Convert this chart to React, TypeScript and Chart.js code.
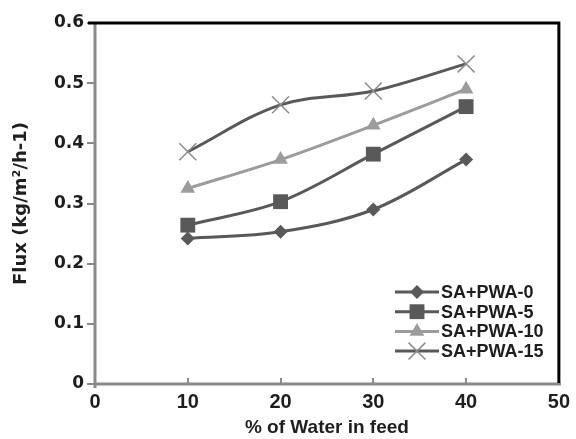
import React, { useEffect, useRef } from "react";
import { Chart, registerables } from "chart.js";

Chart.register(...registerables);

const waterPct = [10, 20, 30, 40];
const pwa0 = [0.242, 0.253, 0.29, 0.373];
const pwa5 = [0.264, 0.303, 0.382, 0.461];
const pwa10 = [0.325, 0.373, 0.43, 0.49];
const pwa15 = [0.386, 0.464, 0.487, 0.532];
const seriesNames = ["SA+PWA-0", "SA+PWA-5", "SA+PWA-10", "SA+PWA-15"];
const xTickValues = [0, 10, 20, 30, 40, 50];
const xTickLabels = ["0", "10", "20", "30", "40", "50"];
const yTickValues = [0, 0.1, 0.2, 0.3, 0.4, 0.5, 0.6];
const yTickLabels = ["0", "0.1", "0.2", "0.3", "0.4", "0.5", "0.6"];

const DARK = "#595959";
const LIGHT = "#9c9c9c";
const MARK_X = "#8c8c8c";
const TEXT = "#1e1e1e";

function drawMarker(ctx: CanvasRenderingContext2D, style: string, x: number, y: number, r: number, fill: string, stroke: string, lw: number) {
  ctx.save();
  ctx.fillStyle = fill;
  ctx.strokeStyle = stroke;
  ctx.lineWidth = lw;
  ctx.beginPath();
  if (style === "rectRot") {
    ctx.moveTo(x - r, y);
    ctx.lineTo(x, y - r);
    ctx.lineTo(x + r, y);
    ctx.lineTo(x, y + r);
    ctx.closePath();
    ctx.fill();
  } else if (style === "rect") {
    const s = r * Math.SQRT1_2;
    ctx.rect(x - s, y - s, 2 * s, 2 * s);
    ctx.fill();
  } else if (style === "triangle") {
    const rad = Math.PI / 2;
    ctx.moveTo(x + Math.cos(rad - Math.PI / 2) * 0 + Math.sin(0) * r, y - r);
    ctx.lineTo(x - Math.sin(Math.PI / 3) * r, y + r * 0.5);
    ctx.lineTo(x + Math.sin(Math.PI / 3) * r, y + r * 0.5);
    ctx.closePath();
    ctx.fill();
  } else if (style === "crossRot") {
    const o = r * Math.SQRT1_2;
    ctx.moveTo(x - o, y - o);
    ctx.lineTo(x + o, y + o);
    ctx.moveTo(x - o, y + o);
    ctx.lineTo(x + o, y - o);
    ctx.stroke();
  }
  ctx.restore();
}

const framePlugin = {
  id: "frame",
  beforeDatasetsDraw(chart: any) {
    const { ctx, chartArea: a, scales } = chart;
    const xs = scales.x;
    const ys = scales.y;
    ctx.save();
    ctx.lineCap = "butt";
    ctx.strokeStyle = "#8a8a8a";
    ctx.lineWidth = 3;
    ctx.beginPath();
    ctx.moveTo(a.left, a.top);
    ctx.lineTo(a.left, a.bottom + 4);
    ctx.moveTo(a.left - 1.5, a.bottom);
    ctx.lineTo(a.right + 2, a.bottom);
    ctx.stroke();
    ctx.lineWidth = 2;
    ctx.beginPath();
    yTickValues.forEach((v) => {
      const py = Math.round(ys.getPixelForValue(v));
      ctx.moveTo(a.left - 8, py);
      ctx.lineTo(a.left, py);
    });
    xTickValues.forEach((v) => {
      const px = Math.round(xs.getPixelForValue(v));
      ctx.moveTo(px, a.bottom);
      ctx.lineTo(px, a.bottom - 6);
    });
    ctx.stroke();
    ctx.strokeStyle = "#000";
    ctx.lineWidth = 3;
    ctx.beginPath();
    ctx.moveTo(a.left - 7, a.top);
    ctx.lineTo(a.right, a.top);
    ctx.lineTo(a.right, a.bottom - 1);
    ctx.stroke();
    ctx.restore();
  },
};

const legendPlugin = {
  id: "insideLegend",
  afterDraw(chart: any) {
    const { ctx } = chart;
    const x0 = 395;
    const x1 = 439;
    const y0 = 292;
    const dy = 19.7;
    ctx.save();
    chart.data.datasets.forEach((ds: any, i: number) => {
      const y = y0 + i * dy;
      ctx.strokeStyle = ds.borderColor;
      ctx.lineWidth = 3;
      ctx.beginPath();
      ctx.moveTo(x0, y);
      ctx.lineTo(x1, y);
      ctx.stroke();
      drawMarker(ctx, ds.pointStyle, (x0 + x1) / 2, y, ds.pointRadius, ds.pointBackgroundColor, ds.pointBorderColor, ds.pointBorderWidth);
      ctx.fillStyle = TEXT;
      ctx.font = "bold 18px 'Liberation Sans'";
      ctx.textAlign = "left";
      ctx.textBaseline = "middle";
      ctx.fillText(seriesNames[i], x1 + 2, y + 1);
    });
    ctx.restore();
  },
};

function toPoints(vals: number[]) {
  return waterPct.map((x, i) => ({ x, y: vals[i] }));
}

export default function App() {
  const ref = useRef<HTMLCanvasElement | null>(null);
  useEffect(() => {
    if (!ref.current) return;
    const common = { borderWidth: 3, tension: 0.35, fill: false };
    const chart = new Chart(ref.current, {
      type: "line",
      data: {
        datasets: [
          {
            ...common,
            label: seriesNames[0],
            data: toPoints(pwa0),
            borderColor: DARK,
            pointStyle: "rectRot",
            pointRadius: 7,
            pointBackgroundColor: DARK,
            pointBorderColor: DARK,
            pointBorderWidth: 0,
          },
          {
            ...common,
            label: seriesNames[1],
            data: toPoints(pwa5),
            borderColor: DARK,
            pointStyle: "rect",
            pointRadius: 10.5,
            pointBackgroundColor: DARK,
            pointBorderColor: DARK,
            pointBorderWidth: 0,
          },
          {
            ...common,
            label: seriesNames[2],
            data: toPoints(pwa10),
            borderColor: LIGHT,
            pointStyle: "triangle",
            pointRadius: 8.5,
            pointBackgroundColor: LIGHT,
            pointBorderColor: LIGHT,
            pointBorderWidth: 0,
          },
          {
            ...common,
            label: seriesNames[3],
            data: toPoints(pwa15),
            borderColor: DARK,
            pointStyle: "crossRot",
            pointRadius: 12,
            pointBackgroundColor: MARK_X,
            pointBorderColor: MARK_X,
            pointBorderWidth: 1.5,
          },
        ] as any,
      },
      options: {
        animation: false,
        responsive: true,
        maintainAspectRatio: false,
        layout: { padding: { top: 23, right: 16, left: 0, bottom: 0 } },
        plugins: { legend: { display: false }, tooltip: { enabled: false } },
        scales: {
          x: {
            type: "linear",
            min: 0,
            max: 50,
            grid: { display: false, drawTicks: false },
            border: { display: false },
            afterFit: (s: any) => {
              s.height = 55;
            },
            afterBuildTicks: (s: any) => {
              s.ticks = xTickValues.map((v) => ({ value: v }));
            },
            ticks: {
              padding: 6,
              color: TEXT,
              font: { family: "'Liberation Sans'", size: 20, weight: "bold" },
              callback: (_v: any, i: number) => xTickLabels[i],
              maxRotation: 0,
            },
            title: {
              display: true,
              text: "% of Water in feed",
              color: TEXT,
              font: { family: "'Liberation Sans'", size: 19, weight: "bold" },
              padding: { top: 0, bottom: 0 },
            },
          },
          y: {
            type: "linear",
            min: 0,
            max: 0.6,
            grid: { display: false, drawTicks: false },
            border: { display: false },
            afterFit: (s: any) => {
              s.width = 95;
            },
            afterBuildTicks: (s: any) => {
              s.ticks = yTickValues.map((v) => ({ value: v }));
            },
            ticks: {
              padding: 11,
              color: TEXT,
              font: { family: "'DejaVu Sans'", size: 17, weight: "bold" },
              callback: (_v: any, i: number) => yTickLabels[i],
            },
            title: {
              display: true,
              text: "Flux (kg/m²/h-1)",
              color: TEXT,
              font: { family: "'DejaVu Sans'", size: 18, weight: "bold" },
              padding: { top: 11, bottom: 0 },
            },
          },
        },
      } as any,
      plugins: [framePlugin, legendPlugin],
    });
    return () => chart.destroy();
  }, []);
  return (
    <div style={{ position: "fixed", left: 0, top: 0, width: 576, height: 439, background: "#fff" }}>
      <canvas ref={ref} />
    </div>
  );
}
